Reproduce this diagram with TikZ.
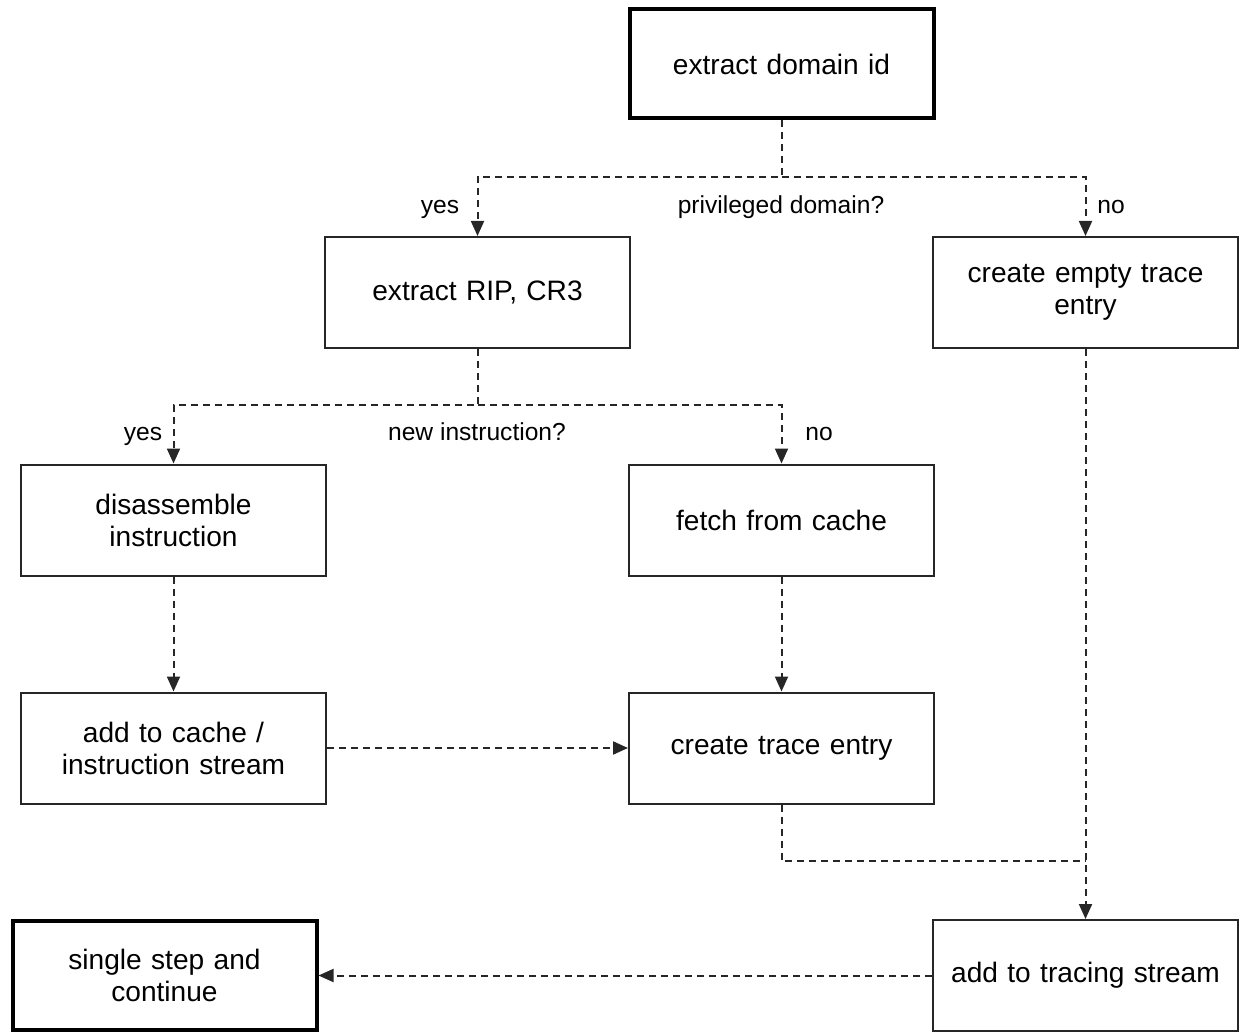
\documentclass[tikz,border=0pt]{standalone}
\usepackage{fontspec}
\setmainfont{Liberation Sans}
\usetikzlibrary{arrows.meta}
\definecolor{linegray}{HTML}{262626}
\tikzset{
  box/.style={draw=linegray, line width=1pt, minimum width=152.5pt, minimum height=55.5pt,
    inner sep=2pt, align=center, text width=148pt, font=\fontsize{14.05}{16}\selectfont},
  startbox/.style={box, draw=black, line width=2pt, minimum width=151pt, minimum height=54.5pt},
  flow/.style={draw=linegray, line width=1pt, dash pattern=on 3.5pt off 2.5pt},
  arr/.style={flow, -{Triangle[length=7.5pt,width=6.5pt]}},
  lbl/.style={font=\fontsize{12.3}{14}\selectfont, inner sep=0pt, anchor=base}
}
\begin{document}
\begin{tikzpicture}[x=0.5pt, y=-0.5pt]
\useasboundingbox (0,0) rectangle (1247,1032);

% process steps
\node[startbox] (dom)    at (781.5,64)    {extract domain id};
\node[box]      (rip)    at (477.5,292.5) {extract RIP, CR3};
\node[box]      (empty)  at (1085.5,292.5){create empty trace\\entry};
\node[box]      (dis)    at (173.5,520)   {disassemble\\instruction};
\node[box]      (fetch)  at (781.5,520)   {fetch from cache};
\node[box]      (add)    at (173.5,748)   {add to cache /\\instruction stream};
\node[box]      (trace)  at (781.5,748)   {create trace entry};
\node[startbox] (single) at (164.5,975.5) {single step and\\continue};
\node[box]      (stream) at (1085.5,975.5){add to tracing stream};

% branch points
\coordinate (j1) at (781.5,177);
\coordinate (j2) at (477.5,405);
\coordinate (j3) at (1085.5,861);

% decision: privileged domain?
\draw[arr] (dom.south) -- (j1) -| (rip.north);
\draw[arr] (j1) -| (empty.north);
\node[lbl] (l1) at (440,214)  {yes};
\node[lbl] (l2) at (781,214)  {privileged domain?};
\node[lbl] (l3) at (1111,214) {no};

% decision: new instruction?
\draw[arr] (rip.south) -- (j2) -| (dis.north);
\draw[arr] (j2) -| (fetch.north);
\node[lbl] (l4) at (143,440) {yes};
\node[lbl] (l5) at (477,440) {new instruction?};
\node[lbl] (l6) at (819,440) {no};

% remaining flow
\draw[arr] (dis.south) -- (add.north);
\draw[arr] (fetch.south) -- (trace.north);
\draw[arr] (add.east) -- (trace.west);
\draw[arr] (empty.south) -- (stream.north);
\draw[flow] (trace.south) |- (j3);
\draw[arr] (stream.west) -- (single.east);
\end{tikzpicture}
\end{document}
